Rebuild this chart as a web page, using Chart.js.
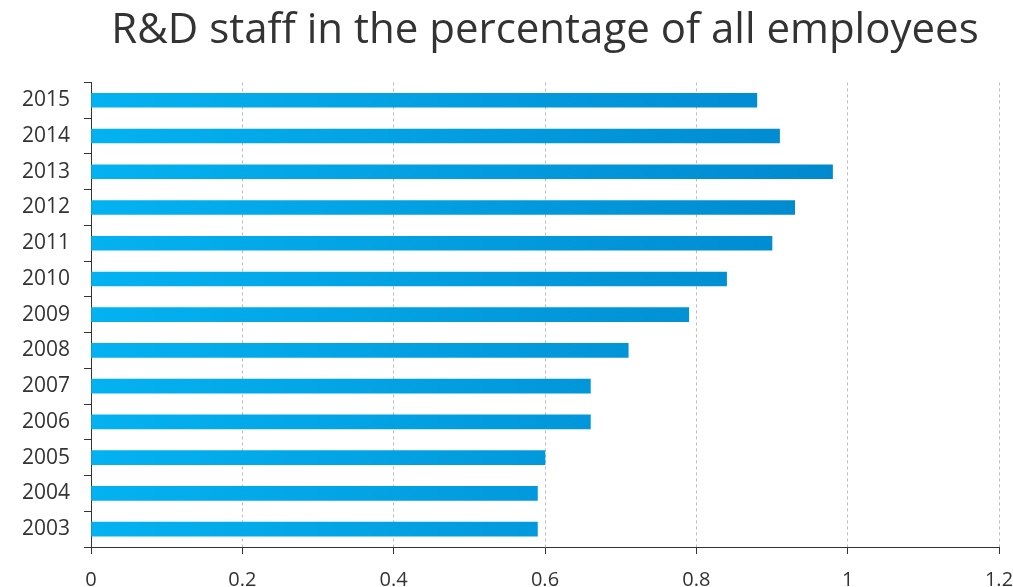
<!DOCTYPE html>
<html>
<head>
<meta charset="utf-8">
<script src="https://cdn.jsdelivr.net/npm/chart.js@4"></script>
<style>
  html, body { margin: 0; padding: 0; overflow: hidden; background: #fff; }
  #wrap { width: 1013px; height: 587px; position: relative; }
</style>
</head>
<body>
<div id="wrap"><canvas id="rdChart"></canvas></div>
<script>
const years = ['2015', '2014', '2013', '2012', '2011', '2010', '2009', '2008', '2007', '2006', '2005', '2004', '2003'];
const rdShare = [0.88, 0.91, 0.98, 0.93, 0.90, 0.84, 0.79, 0.71, 0.66, 0.66, 0.60, 0.59, 0.59];
const xTicks = [0, 0.2, 0.4, 0.6, 0.8, 1, 1.2];
const xTickLabels = ['0', '0.2', '0.4', '0.6', '0.8', '1', '1.2'];

const textColor = '#333';
const fontFamily = '"Open Sans", Lato, sans-serif';

function barGradient(context) {
    const chart = context.chart;
    const area = chart.chartArea;
    if (!area) return '#00a0e4';
    const g = chart.ctx.createLinearGradient(area.left, 0, area.right, 0);
    g.addColorStop(0, '#04b2f1');
    g.addColorStop(1, '#0080c6');
    return g;
}

const rdChart = new Chart(document.getElementById('rdChart'), {
    type: 'bar',
    data: {
        labels: years,
        datasets: [{
            label: 'R&D staff',
            data: rdShare,
            backgroundColor: barGradient,
            barThickness: 14
        }]
    },
    options: {
        indexAxis: 'y',
        responsive: true,
        maintainAspectRatio: false,
        animation: false,
        layout: { padding: { left: 0, right: 14, top: 0, bottom: 0 } },
        plugins: {
            legend: { display: false },
            tooltip: { enabled: false },
            title: {
                display: true,
                fullSize: false,
                text: 'R&D staff in the percentage of all employees',
                color: textColor,
                font: { family: fontFamily, size: 42, weight: 'normal' },
                padding: { top: 6, bottom: 26 }
            }
        },
        scales: {
            x: {
                min: 0,
                max: 1.2,
                afterBuildTicks: axis => { axis.ticks = xTicks.map(v => ({ value: v })); },
                afterFit: axis => {
                    axis.height = 40;
                    axis.paddingLeft = 0;
                    axis.paddingRight = 0;
                },
                ticks: {
                    color: textColor,
                    font: { family: fontFamily, size: 20 },
                    padding: 14,
                    maxRotation: 0,
                    callback: (value, i) => xTickLabels[i]
                },
                grid: {
                    color: '#bdbdbd',
                    tickColor: textColor,
                    tickLength: 7,
                    lineWidth: 1
                },
                border: { color: textColor, dash: [3, 3] }
            },
            y: {
                afterFit: axis => {
                    axis.width = 91;
                    axis.paddingTop = 0;
                    axis.paddingBottom = 0;
                },
                ticks: {
                    color: textColor,
                    font: { family: fontFamily, size: 21 },
                    padding: 14
                },
                grid: {
                    drawOnChartArea: false,
                    tickColor: textColor,
                    tickLength: 7
                },
                border: { color: textColor }
            }
        }
    }
});
</script>
</body>
</html>
